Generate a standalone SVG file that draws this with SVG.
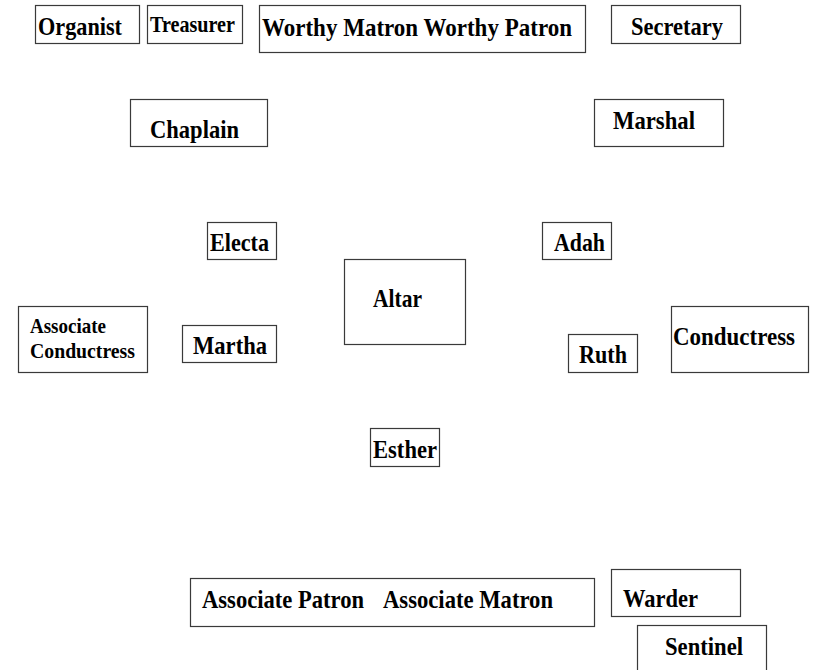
<svg xmlns="http://www.w3.org/2000/svg" width="815" height="670" viewBox="0 0 815 670">
<style>
rect{fill:#fff;stroke:#3a3a3a;stroke-width:1.2}
text{font-family:"Liberation Serif","Times New Roman",serif;font-weight:bold;font-size:25px;fill:#000}
.m{font-size:22.5px}
.s{font-size:21px}
</style>
<rect x="0" y="0" width="815" height="670" style="stroke:none"/>
<g id="organist"><rect x="35.5" y="5.5" width="104" height="38"/><text x="38" y="35" textLength="84" lengthAdjust="spacingAndGlyphs">Organist</text></g>
<g id="treasurer"><rect x="147.5" y="5.5" width="95" height="38"/><text class="m" x="150" y="32" textLength="85" lengthAdjust="spacingAndGlyphs">Treasurer</text></g>
<g id="worthy"><rect x="259.5" y="5.5" width="326" height="47"/><text x="262" y="36" textLength="310" lengthAdjust="spacingAndGlyphs">Worthy Matron Worthy Patron</text></g>
<g id="secretary"><rect x="611.5" y="5.5" width="129" height="38"/><text x="631" y="35" textLength="92" lengthAdjust="spacingAndGlyphs">Secretary</text></g>
<g id="chaplain"><rect x="130.5" y="99.5" width="137" height="47"/><text x="150" y="138" textLength="89" lengthAdjust="spacingAndGlyphs">Chaplain</text></g>
<g id="marshal"><rect x="594.5" y="99.5" width="129" height="47"/><text x="613" y="129" textLength="82" lengthAdjust="spacingAndGlyphs">Marshal</text></g>
<g id="electa"><rect x="207.5" y="222.5" width="69" height="37"/><text x="210" y="251" textLength="59" lengthAdjust="spacingAndGlyphs">Electa</text></g>
<g id="adah"><rect x="542.5" y="222.5" width="69" height="37"/><text x="554" y="251" textLength="51" lengthAdjust="spacingAndGlyphs">Adah</text></g>
<g id="altar"><rect x="344.5" y="259.5" width="121" height="85"/><text x="373" y="307" textLength="49" lengthAdjust="spacingAndGlyphs">Altar</text></g>
<g id="assoc-conductress"><rect x="18.5" y="306.5" width="129" height="66"/><text class="s" x="30" y="333" textLength="76" lengthAdjust="spacingAndGlyphs">Associate</text><text class="s" x="30" y="358" textLength="105" lengthAdjust="spacingAndGlyphs">Conductress</text></g>
<g id="martha"><rect x="182.5" y="325.5" width="94" height="37"/><text x="193" y="354" textLength="74" lengthAdjust="spacingAndGlyphs">Martha</text></g>
<g id="ruth"><rect x="568.5" y="334.5" width="69" height="38"/><text x="579" y="363" textLength="48" lengthAdjust="spacingAndGlyphs">Ruth</text></g>
<g id="conductress"><rect x="671.5" y="306.5" width="137" height="66"/><text x="673" y="345" textLength="122" lengthAdjust="spacingAndGlyphs">Conductress</text></g>
<g id="esther"><rect x="370.5" y="428.5" width="69" height="38"/><text x="373" y="458" textLength="64" lengthAdjust="spacingAndGlyphs">Esther</text></g>
<g id="assoc-patron-matron"><rect x="190.5" y="578.5" width="404" height="48"/><text x="202" y="608" textLength="162" lengthAdjust="spacingAndGlyphs">Associate Patron</text><text x="383" y="608" textLength="170" lengthAdjust="spacingAndGlyphs">Associate Matron</text></g>
<g id="warder"><rect x="611.5" y="569.5" width="129" height="47"/><text x="623" y="607" textLength="75" lengthAdjust="spacingAndGlyphs">Warder</text></g>
<g id="sentinel"><rect x="637.5" y="625.5" width="129" height="60"/><text x="665" y="655" textLength="78" lengthAdjust="spacingAndGlyphs">Sentinel</text></g>
<g id="connectors"></g>
</svg>
